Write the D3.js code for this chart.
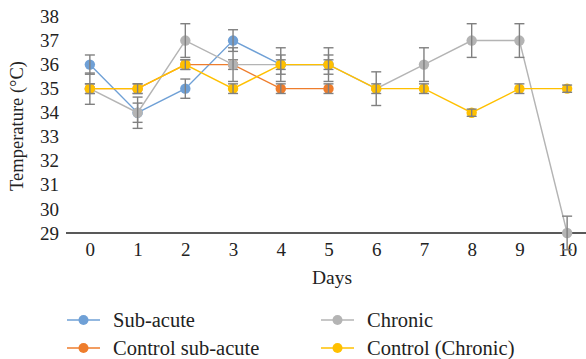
<!DOCTYPE html>
<html>
<head>
<meta charset="utf-8">
<script src="https://cdn.jsdelivr.net/npm/d3@7/dist/d3.min.js"></script>
<style>
  body { margin: 0; background: #fff; }
  svg text { font-family: "Liberation Serif", "DejaVu Serif", serif; fill: #222; }
</style>
</head>
<body>
<div id="chart"></div>
<script>
// data
var days = ["0", "1", "2", "3", "4", "5", "6", "7", "8", "9", "10"];
var yTicks = [29, 30, 31, 32, 33, 34, 35, 36, 37, 38];

var subAcute = [36, 34, 35, 37, 36, 36];
var subAcuteErr = [0.4, 0.4, 0.4, 0.45, 0.4, 0.4];
var controlSub = [35, 35, 36, 36, 35, 35];
var controlSubErr = [0.2, 0.2, 0.2, 0.2, 0.2, 0.2];
var chronic = [35, 34, 37, 36, 36, 36, 35, 36, 37, 37, 29];
var chronicErr = [0.65, 0.65, 0.7, 0.7, 0.7, 0.7, 0.7, 0.7, 0.7, 0.7, 0.7];
var controlChronic = [35, 35, 36, 35, 36, 36, 35, 35, 34, 35, 35];
var controlChronicErr = [0.2, 0.2, 0.2, 0.2, 0.2, 0.2, 0.2, 0.2, 0.15, 0.2, 0.15];

var seriesNames = ["Sub-acute", "Control sub-acute", "Chronic", "Control (Chronic)"];
var colors = ["#6fa0d6", "#ee7d2c", "#b4b4b4", "#ffc000"];

var width = 586, height = 359;
var margin = { top: 16.5, right: 0, bottom: 126, left: 66 };

var svg = d3.select("#chart").append("svg")
    .attr("width", width).attr("height", height);

var x = d3.scalePoint().domain(days).range([margin.left, 591]).padding(0.5);
var y = d3.scaleLinear().domain([29, 38]).range([height - margin.bottom, margin.top]);

var series = [
  { name: seriesNames[0], values: subAcute, err: subAcuteErr, color: colors[0] },
  { name: seriesNames[1], values: controlSub, err: controlSubErr, color: colors[1] },
  { name: seriesNames[2], values: chronic, err: chronicErr, color: colors[2] },
  { name: seriesNames[3], values: controlChronic, err: controlChronicErr, color: colors[3] }
];

// y axis labels (no line)
var yAxis = svg.append("g")
    .attr("transform", "translate(" + margin.left + ",0)")
    .call(d3.axisLeft(y).tickValues(yTicks).tickSize(0).tickPadding(7));
yAxis.select(".domain").remove();
yAxis.selectAll("text").attr("font-size", "19px").attr("font-family", "Liberation Serif").attr("fill", "#222");

// x axis
var xAxis = svg.append("g")
    .attr("transform", "translate(0," + y(29) + ")")
    .call(d3.axisBottom(x).tickSize(0).tickPadding(10));
xAxis.select(".domain").attr("d", "M" + margin.left + ",0H" + width).attr("stroke", "#222").attr("stroke-width", 1.6);
xAxis.selectAll("text").attr("font-size", "19px").attr("font-family", "Liberation Serif").attr("fill", "#222");

// axis titles
svg.append("text")
    .attr("x", 332).attr("y", 284)
    .attr("text-anchor", "middle")
    .attr("font-size", "19.5px")
    .text("Days");
svg.append("text")
    .attr("transform", "translate(23,126) rotate(-90)")
    .attr("text-anchor", "middle")
    .attr("font-size", "18.5px")
    .text("Temperature (\u00B0C)");

var line = d3.line()
    .x(function (d, i) { return x(days[i]); })
    .y(function (d) { return y(d); });

series.forEach(function (s) {
  var g = svg.append("g");
  g.append("path")
      .datum(s.values)
      .attr("fill", "none")
      .attr("stroke", s.color)
      .attr("stroke-width", 1.4)
      .attr("d", line);

  g.selectAll("circle").data(s.values).enter().append("circle")
      .attr("cx", function (d, i) { return x(days[i]); })
      .attr("cy", function (d) { return y(d); })
      .attr("r", 5.2)
      .attr("fill", s.color);

  // error bars
  var eb = g.selectAll("g.err").data(s.values).enter().append("g").attr("class", "err");
  eb.append("line")
      .attr("x1", function (d, i) { return x(days[i]); })
      .attr("x2", function (d, i) { return x(days[i]); })
      .attr("y1", function (d, i) { return y(d + s.err[i]); })
      .attr("y2", function (d, i) { return y(d - s.err[i]); });
  eb.append("line")
      .attr("x1", function (d, i) { return x(days[i]) - 5; })
      .attr("x2", function (d, i) { return x(days[i]) + 5; })
      .attr("y1", function (d, i) { return y(d + s.err[i]); })
      .attr("y2", function (d, i) { return y(d + s.err[i]); });
  eb.append("line")
      .attr("x1", function (d, i) { return x(days[i]) - 5; })
      .attr("x2", function (d, i) { return x(days[i]) + 5; })
      .attr("y1", function (d, i) { return y(d - s.err[i]); })
      .attr("y2", function (d, i) { return y(d - s.err[i]); });
  eb.selectAll("line").attr("stroke", "#808080").attr("stroke-width", 1.4);
});

// legend
var legendPos = [[67, 320], [67, 348], [321, 320], [321, 348]];
series.forEach(function (s, i) {
  var lg = svg.append("g").attr("transform", "translate(" + legendPos[i][0] + "," + legendPos[i][1] + ")");
  lg.append("line").attr("x1", 0).attr("x2", 33).attr("y1", 0).attr("y2", 0)
      .attr("stroke", s.color).attr("stroke-width", 1.6);
  lg.append("circle").attr("cx", 16.5).attr("cy", 0).attr("r", 5).attr("fill", s.color);
  lg.append("text").attr("x", 46).attr("y", 7).attr("font-size", "20.5px").text(s.name);
});
</script>
</body>
</html>
